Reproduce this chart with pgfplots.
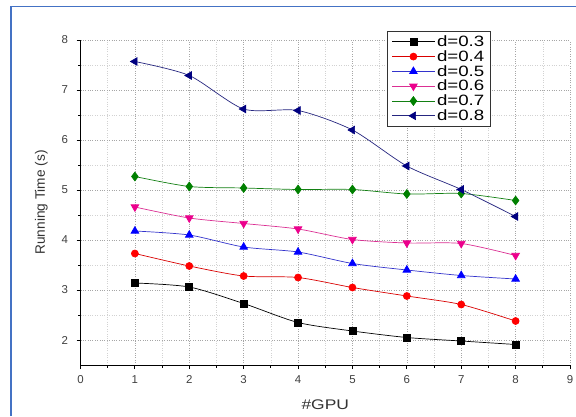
\documentclass[border=0pt]{standalone}
\usepackage{graphicx}
\usepackage{pgfplots}
\pgfplotsset{compat=1.18}
\usepackage{fontspec}
\setmainfont{Liberation Sans}
\newcommand{\widetxt}[1]{\scalebox{1.25}[1]{#1}}
\definecolor{frameblue}{RGB}{68,114,196}
\definecolor{dgreen}{RGB}{0,128,0}
\definecolor{navyb}{RGB}{0,0,128}
\begin{document}
\begin{tikzpicture}[x=1bp,y=1bp]
\path[use as bounding box] (0,0) rectangle (576,416);
\fill[white] (0,0) rectangle (576,416);
\draw[frameblue, line width=1.6bp] (11,0) -- (11,409.3) -- (576,409.3);
\begin{axis}[
  at={(80.5bp,51bp)}, anchor=south west,
  width=489.5bp, height=325bp, scale only axis,
  xmin=0, xmax=9, ymin=1.5, ymax=8,
  axis lines*=left,
  axis line style={line width=0.9pt, black},
  xtick={0,...,9}, ytick={2,...,8},
  minor xtick={0.5,1.5,...,8.5}, minor ytick={2.5,3.5,...,7.5},
  tick align=outside,
  major tick length=4bp, minor tick length=2.5bp,
  tick style={black, line width=0.8pt},
  grid=both,
  major grid style={gray!70, dotted, line width=0.6pt},
  minor grid style={gray!35, dotted, line width=0.6pt},
  /pgf/number format/assume math mode=true,
  ticklabel style={font=\fontsize{11.5}{12}\selectfont, text=black!75},
  xticklabel style={yshift=-3bp},
  yticklabel style={xshift=-5bp},
  xlabel={\widetxt{\#GPU}}, ylabel={Running Time (s)},
  xlabel style={font=\fontsize{14}{16}\selectfont, text=black!80, yshift=-9bp},
  ylabel style={font=\fontsize{13.7}{16}\selectfont, text=black!80, yshift=7bp},
  legend style={at={(0.627,1.027)}, anchor=north west, draw=black!80, line width=0.8pt,
    font=\fontsize{15}{15}\selectfont, row sep=-1.5bp, inner xsep=4pt, inner ysep=2pt},
  legend cell align=left,
  legend image code/.code={\draw[#1] (0cm,0cm) -- (1.5cm,0cm); \draw[#1,mark repeat=2,mark phase=2] plot coordinates {(0cm,0cm) (0.75cm,0cm) (1.5cm,0cm)};},
  every axis plot/.append style={line width=0.7pt, smooth, tension=0.45, mark size=3.5bp},
]
\addplot[black, mark=square*, mark options={solid, fill=black}] coordinates {(1,3.14)(2,3.06)(3,2.73)(4,2.35)(5,2.18)(6,2.05)(7,1.98)(8,1.91)};
\addplot[red!85!black, mark=*, mark options={fill=red, draw=red}] coordinates {(1,3.73)(2,3.48)(3,3.28)(4,3.25)(5,3.05)(6,2.88)(7,2.71)(8,2.38)};
\addplot[blue!60!gray, mark=triangle*, mark size=4.4bp, mark options={fill=blue, draw=blue}] coordinates {(1,4.18)(2,4.10)(3,3.86)(4,3.76)(5,3.53)(6,3.40)(7,3.29)(8,3.22)};
\addplot[magenta!80!gray, mark=triangle*, mark size=4.4bp, mark options={rotate=180, fill=magenta, draw=magenta}] coordinates {(1,4.66)(2,4.44)(3,4.33)(4,4.22)(5,4.01)(6,3.94)(7,3.93)(8,3.69)};
\addplot[dgreen!85!gray, mark=diamond*, mark size=4.4bp, mark options={fill=dgreen, draw=dgreen}] coordinates {(1,5.27)(2,5.07)(3,5.04)(4,5.01)(5,5.01)(6,4.92)(7,4.93)(8,4.79)};
\addplot[navyb!70!gray, mark=triangle*, mark size=4.4bp, mark options={rotate=90, fill=navyb, draw=navyb}] coordinates {(1,7.57)(2,7.29)(3,6.62)(4,6.59)(5,6.20)(6,5.48)(7,5.01)(8,4.47)};
\legend{\widetxt{d=0.3},\widetxt{d=0.4},\widetxt{d=0.5},\widetxt{d=0.6},\widetxt{d=0.7},\widetxt{d=0.8}}
\end{axis}
\end{tikzpicture}
\end{document}
